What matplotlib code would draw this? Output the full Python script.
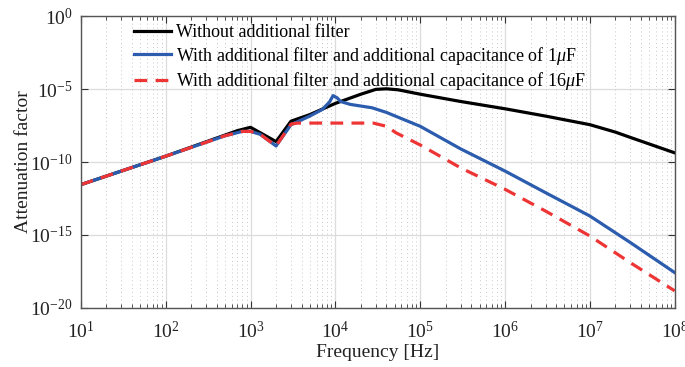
import numpy as np
import matplotlib.pyplot as plt
from matplotlib.ticker import NullLocator, LogLocator

plt.rcParams['font.family'] = ['Liberation Serif', 'DejaVu Serif']
plt.rcParams['mathtext.fontset'] = 'custom'
plt.rcParams['mathtext.rm'] = 'Liberation Serif'
plt.rcParams['mathtext.it'] = 'Liberation Serif:italic'
plt.rcParams['axes.unicode_minus'] = False

# black: without additional filter (log10 of attenuation)
f_none = [10, 100, 700, 1000, 2000, 3000, 5000, 10000, 20000, 30000, 40000, 55000,
          1e5, 3e5, 1e6, 3e6, 1e7, 2e7, 3.2e7, 1e8]
a_none = [-11.55, -9.6, -7.85, -7.62, -8.6, -7.2, -6.75, -5.98, -5.35, -5.02, -4.98, -5.05,
          -5.35, -5.85, -6.35, -6.85, -7.44, -7.95, -8.37, -9.37]

# blue: with filter, 1 uF
f_1u = [10, 100, 500, 800, 1000, 1300, 2000, 3000, 5000, 7000, 8500, 9400, 10500,
        11500, 15000, 27000, 40000, 1e5, 3e5, 1e6, 3e6, 1e7, 3e7, 1e8]
a_1u = [-11.55, -9.6, -8.2, -7.9, -7.9, -8.1, -8.9, -7.44, -6.85, -6.4, -5.9, -5.45, -5.6,
        -5.85, -6.05, -6.28, -6.6, -7.55, -9.1, -10.62, -12.1, -13.7, -15.52, -17.58]

# red: with filter, 16 uF
f_16u = [10, 100, 500, 800, 1000, 1300, 2000, 3000, 3600, 28000, 40000, 52000,
         1e5, 3e5, 1e6, 3e6, 1e7, 3e7, 1e8]
a_16u = [-11.55, -9.6, -8.2, -7.9, -7.9, -8.1, -8.9, -7.4, -7.33, -7.33, -7.55, -8.0,
         -8.83, -10.4, -11.87, -13.36, -15.07, -16.9, -18.83]

labels = ['Without additional filter',
          r'With additional filter and additional capacitance of 1$\mu$F',
          r'With additional filter and additional capacitance of 16$\mu$F']

fig = plt.figure(figsize=(6.85, 3.67), dpi=100)
ax = fig.add_axes([0.118, 0.161, 0.867, 0.795])

ax.plot(f_none, 10.0 ** np.array(a_none), color='black', lw=2.3, label=labels[0])
ax.plot(f_1u, 10.0 ** np.array(a_1u), color='#2b5cad', lw=2.3, label=labels[1])
ax.plot(f_16u, 10.0 ** np.array(a_16u), color='#ee3535', lw=2.3, ls=(0, (4, 2.6)), label=labels[2])

ax.set_xscale('log')
ax.set_yscale('log')
ax.set_xlim(10, 1e8)
ax.set_ylim(1e-20, 1)
ax.set_xticks([10.0 ** k for k in range(1, 9)])
ax.xaxis.set_minor_locator(LogLocator(base=10, subs=np.arange(2, 10), numticks=20))
ax.set_yticks([10.0 ** k for k in range(-20, 1, 5)])
ax.yaxis.set_minor_locator(NullLocator())

ax.grid(True, which='major', color='#dcdcdc', lw=0.9)
ax.grid(True, which='minor', axis='x', color='#c8c8c8', lw=0.7, ls=(0, (1, 3)))
ax.set_axisbelow(True)

ax.tick_params(which='both', direction='in', top=True, right=True, colors='#333333',
               labelcolor='#222222', labelsize=14)
ax.tick_params(which='major', length=5)
ax.tick_params(axis='x', which='major', pad=9)
ax.tick_params(axis='y', which='major', pad=6)
ax.tick_params(which='minor', length=3)
for s in ax.spines.values():
    s.set_color('#555555')
    s.set_linewidth(1.0)

ax.set_xlabel('Frequency [Hz]', fontsize=14, color='#222222', labelpad=2)
ax.set_ylabel('Attenuation factor', fontsize=14, color='#222222')
ax.yaxis.set_label_coords(-0.083, 0.5)

ax.legend(loc='upper left', bbox_to_anchor=(0.072, 1.01), frameon=False, fontsize=13,
          handlelength=2.05, handletextpad=0.25, labelspacing=0.2, borderaxespad=0.2)

fig.savefig('out.png', dpi=100)
